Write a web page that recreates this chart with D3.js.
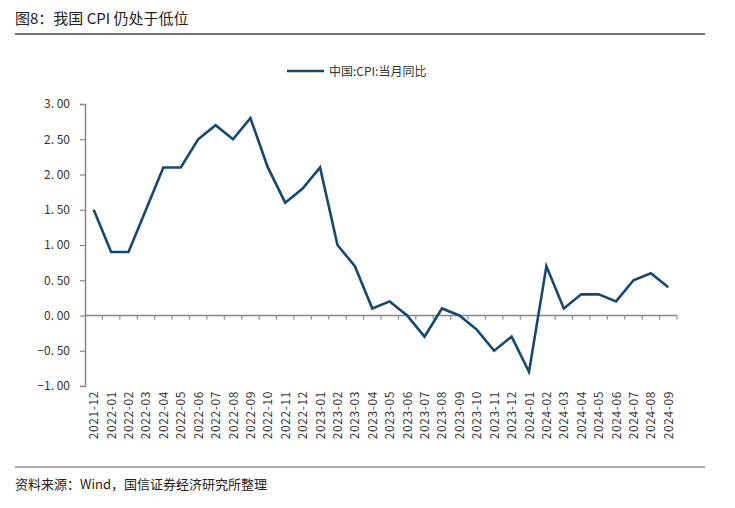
<!DOCTYPE html>
<html><head><meta charset="utf-8">
<script src="https://cdn.jsdelivr.net/npm/d3@7"></script>
<style>body{margin:0;background:#fff;}svg{display:block;}</style>
</head><body>
<script>
const categories = ["2021-12","2022-01","2022-02","2022-03","2022-04","2022-05","2022-06","2022-07","2022-08","2022-09","2022-10","2022-11","2022-12","2023-01","2023-02","2023-03","2023-04","2023-05","2023-06","2023-07","2023-08","2023-09","2023-10","2023-11","2023-12","2024-01","2024-02","2024-03","2024-04","2024-05","2024-06","2024-07","2024-08","2024-09"];
const cpiYoY = [1.5,0.9,0.9,1.5,2.1,2.1,2.5,2.7,2.5,2.8,2.1,1.6,1.8,2.1,1.0,0.7,0.1,0.2,0.0,-0.3,0.1,0.0,-0.2,-0.5,-0.3,-0.8,0.7,0.1,0.3,0.3,0.2,0.5,0.6,0.4];
const yTicks = [-1,-0.5,0,0.5,1,1.5,2,2.5,3];
const seriesName = "中国:CPI:当月同比";
const title = "图8：我国 CPI 仍处于低位";
const source = "资料来源：Wind，国信证券经济研究所整理";

const W = 735, H = 508;
const font = "'Noto Sans CJK SC', 'DejaVu Sans', sans-serif";
const svg = d3.select("body").append("svg").attr("width", W).attr("height", H);

svg.append("text").attr("x", 15).attr("y", 24).attr("font-family", font)
  .attr("font-size", 15).attr("fill", "#222").text(title);
svg.append("line").attr("x1", 15).attr("x2", 705).attr("y1", 34).attr("y2", 34)
  .attr("stroke", "#777").attr("stroke-width", 2);
svg.append("line").attr("x1", 15).attr("x2", 705).attr("y1", 467).attr("y2", 467)
  .attr("stroke", "#555").attr("stroke-width", 1);
svg.append("text").attr("x", 15).attr("y", 489).attr("font-family", font)
  .attr("font-size", 13).attr("fill", "#222").text(source);

const x = d3.scaleBand().domain(categories).range([85, 677]);
const y = d3.scaleLinear().domain([-1, 3]).range([386, 104]);

// y axis
const yAxis = svg.append("g").attr("transform", "translate(85,0)")
  .call(d3.axisLeft(y).tickValues(yTicks).tickSize(5).tickPadding(10)
    .tickFormat(d => d3.format(".2f")(d).replace("-", "−").replace(".", ". ")));
yAxis.select(".domain").attr("stroke", "#888").attr("stroke-width", 1.5);
yAxis.selectAll(".tick line").attr("stroke", "#888").attr("stroke-width", 1.2);
yAxis.selectAll("text").attr("font-family", font).attr("font-size", 12).attr("fill", "#333");

// x axis at zero, ticks at band boundaries
const xg = svg.append("g");
xg.append("line").attr("x1", 85).attr("x2", 677).attr("y1", y(0)).attr("y2", y(0))
  .attr("stroke", "#888").attr("stroke-width", 1.5);
const bounds = categories.map(c => x(c)).concat([x.range()[1]]);
xg.selectAll(".xt").data(bounds.slice(1)).join("line")
  .attr("x1", d => d).attr("x2", d => d).attr("y1", y(0)).attr("y2", y(0) + 4)
  .attr("stroke", "#888").attr("stroke-width", 1.2);
xg.selectAll(".xl").data(categories).join("text")
  .attr("transform", c => `translate(${x(c) + x.bandwidth() / 2 + 4.5},391) rotate(-90)`)
  .attr("text-anchor", "end").attr("font-family", font).attr("font-size", 12)
  .attr("letter-spacing", 0.6).attr("fill", "#333").text(c => c);

// line
const line = d3.line().x((d, i) => x(categories[i]) + x.bandwidth() / 2).y(d => y(d));
svg.append("path").datum(cpiYoY).attr("d", line).attr("fill", "none")
  .attr("stroke", "#17486e").attr("stroke-width", 2.6).attr("stroke-linejoin", "miter");

// legend
svg.append("line").attr("x1", 287).attr("x2", 324).attr("y1", 71).attr("y2", 71)
  .attr("stroke", "#17486e").attr("stroke-width", 2.6);
svg.append("text").attr("x", 329).attr("y", 75.5).attr("font-family", font)
  .attr("font-size", 12).attr("fill", "#333").text(seriesName);
</script>
</body></html>
